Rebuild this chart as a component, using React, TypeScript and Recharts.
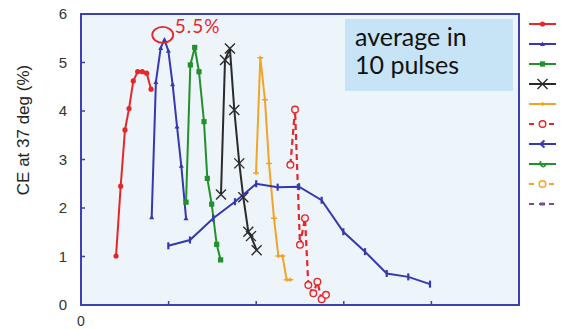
import React from "react"
import {
  LineChart,
  Line,
  XAxis,
  YAxis,
  CartesianGrid,
  ReferenceArea,
  ReferenceDot,
  Legend,
  Label,
} from "recharts"

// values (x in arbitrary units, y = CE %)
const RED_X = [0.4, 0.453, 0.502, 0.548, 0.597, 0.647, 0.7, 0.75, 0.8]
const RED_Y = [1.01, 2.45, 3.61, 4.05, 4.62, 4.81, 4.81, 4.78, 4.45]

const BLUE_X = [0.807, 0.855, 0.91, 0.953, 0.997, 1.046, 1.096, 1.145, 1.199]
const BLUE_Y = [1.81, 4.6, 5.3, 5.47, 5.24, 4.55, 3.68, 2.87, 1.79]

const GREEN_X = [1.199, 1.248, 1.298, 1.347, 1.404, 1.442, 1.492, 1.549, 1.594]
const GREEN_Y = [2.12, 4.95, 5.31, 4.81, 3.78, 2.61, 2.08, 1.25, 0.93]

const BLACK_X = [1.598, 1.644, 1.7, 1.75, 1.807, 1.853, 1.91, 1.94, 2.005]
const BLACK_Y = [2.28, 5.05, 5.29, 4.02, 2.92, 2.22, 1.51, 1.42, 1.13]

const ORANGE_X = [1.998, 2.047, 2.1, 2.146, 2.203, 2.253, 2.3, 2.348, 2.39]
const ORANGE_Y = [2.72, 5.1, 4.23, 2.92, 1.79, 1.01, 1.01, 0.52, 0.52]

const RED_DASH_X = [2.39, 2.443, 2.5, 2.557, 2.595, 2.652, 2.698, 2.747, 2.797]
const RED_DASH_Y = [2.89, 4.03, 1.24, 1.79, 0.41, 0.24, 0.48, 0.12, 0.21]

const BLUE2_X = [0.997, 1.244, 1.51, 1.758, 2.0, 2.245, 2.489, 2.747, 2.995, 3.242, 3.49, 3.736, 3.984]
const BLUE2_Y = [1.22, 1.34, 1.79, 2.13, 2.5, 2.43, 2.44, 2.16, 1.51, 1.1, 0.65, 0.58, 0.43]

const X_TICKS = [0, 1, 2, 3, 4, 5]
const Y_TICKS = [0, 1, 2, 3, 4, 5, 6]
const PEAK = { x: 0.933, y: 5.57, text: "5.5%" }

const pts = (xs: number[], ys: number[]) => xs.map((x, i) => ({ x, y: ys[i] }))

const C = {
  red: "#e5262b",
  blue: "#3538b1",
  green: "#23902e",
  black: "#2a2a2a",
  orange: "#f2a428",
  purple: "#7b4a98",
  frame: "#3c40b0",
  plotBg: "#edf5fa",
}

// ---- markers ----
const Marker = ({ kind, cx, cy, color }: any) => {
  if (cx == null || cy == null) return null
  switch (kind) {
    case "circle":
      return <circle cx={cx} cy={cy} r={2.6} fill={color} />
    case "tri":
      return <path d={`M${cx - 2.5},${cy + 2} L${cx + 2.5},${cy + 2} L${cx},${cy - 2.5} Z`} fill={color} />
    case "square":
      return <rect x={cx - 2.6} y={cy - 2.6} width={5.2} height={5.2} fill={color} />
    case "x":
      return (
        <path
          d={`M${cx - 5},${cy - 5} L${cx + 5},${cy + 5} M${cx - 5},${cy + 5} L${cx + 5},${cy - 5}`}
          stroke={color}
          strokeWidth={1.4}
        />
      )
    case "plus":
      return (
        <path d={`M${cx - 3},${cy} L${cx + 3},${cy} M${cx},${cy - 2} L${cx},${cy + 2}`} stroke={color} strokeWidth={1.5} />
      )
    case "ocircle":
      return <circle cx={cx} cy={cy} r={3.3} fill="#fdf3f3" stroke={color} strokeWidth={1.4} />
    case "bar":
      return <path d={`M${cx},${cy - 3.5} L${cx},${cy + 3.5}`} stroke={color} strokeWidth={2.2} />
    case "lt":
      return <path d={`M${cx + 2},${cy - 3.5} L${cx - 2},${cy} L${cx + 2},${cy + 3.5}`} fill="none" stroke={color} strokeWidth={2} />
    case "hook":
      return <path d={`M${cx - 2},${cy - 3} C${cx - 3},${cy + 4} ${cx + 4},${cy + 4} ${cx + 3},${cy - 1}`} fill="none" stroke={color} strokeWidth={1.8} />
    case "dash":
      return <rect x={cx - 2.5} y={cy - 1.5} width={5} height={3} fill={color} />
    default:
      return null
  }
}

const SERIES = [
  { name: "r1", color: C.red, marker: "circle", dash: undefined },
  { name: "b1", color: C.blue, marker: "tri", dash: undefined },
  { name: "g1", color: C.green, marker: "square", dash: undefined },
  { name: "k1", color: C.black, marker: "x", dash: undefined },
  { name: "o1", color: C.orange, marker: "plus", dash: undefined },
  { name: "r2", color: C.red, marker: "ocircle", dash: "6 4" },
  { name: "b2", color: C.blue, marker: "lt", dash: undefined },
  { name: "g2", color: C.green, marker: "hook", dash: undefined },
  { name: "o2", color: C.orange, marker: "ocircle", dash: "6 4" },
  { name: "p2", color: C.purple, marker: "dash", dash: "6 4" },
]

const LegendBox = () => (
  <div style={{ display: "flex", flexDirection: "column" }}>
    {SERIES.map((s) => (
      <svg key={s.name} width={32} height={20}>
        <line x1={2} y1={10} x2={29} y2={10} stroke={s.color} strokeWidth={2} strokeDasharray={s.dash ? "5 5" : undefined} />
        <Marker kind={s.marker} cx={15.5} cy={10} color={s.color} />
      </svg>
    ))}
  </div>
)

const YTick = ({ x, y, payload }: any) => (
  <g>
    <text x={x} y={y} dy="0.35em" textAnchor="end" fontSize={15} fill="#333" fontFamily="Liberation Sans, Arial, sans-serif">
      {payload.value}
    </text>
    {payload.value > 0 && payload.value < 6 && (
      <line x1={x + 14} y1={y} x2={x + 18} y2={y} stroke={C.frame} strokeWidth={1.5} />
    )}
  </g>
)

const XTick = ({ x, y, payload }: any) => (
  <g>
    {payload.value === 0 && (
      <text x={x} y={y} dy="0.71em" textAnchor="middle" fontSize={14} fill="#333" fontFamily="Liberation Sans, Arial, sans-serif">
        0
      </text>
    )}
    {payload.value > 0 && payload.value < 5 && (
      <line x1={x} y1={y - 11} x2={x} y2={y - 15} stroke={C.frame} strokeWidth={1.5} />
    )}
  </g>
)

const PeakMark = ({ cx, cy }: any) => (
  <g>
    <ellipse cx={cx} cy={cy} rx={10.5} ry={8} fill="none" stroke={C.red} strokeWidth={1.8} />
    <text x={cx + 12} y={cy - 2} fontSize={19} fill={C.red} fontFamily="Lato, sans-serif" letterSpacing={1}>
      {PEAK.text}
    </text>
  </g>
)

const seriesData = [
  pts(RED_X, RED_Y),
  pts(BLUE_X, BLUE_Y),
  pts(GREEN_X, GREEN_Y),
  pts(BLACK_X, BLACK_Y),
  pts(ORANGE_X, ORANGE_Y),
  pts(RED_DASH_X, RED_DASH_Y),
  pts(BLUE2_X, BLUE2_Y),
]

export default function App() {
  return (
    <div style={{ position: "fixed", left: 0, top: 0, width: 565, height: 330, background: "#fff" }}>
      <LineChart width={565} height={330} margin={{ top: 14, right: 46, bottom: 0, left: 41 }}>
        <CartesianGrid horizontal={false} vertical={false} fill={C.plotBg} fillOpacity={1} />
        <XAxis
          type="number"
          dataKey="x"
          domain={[0, 5]}
          ticks={X_TICKS}
          axisLine={false}
          tickLine={false}
          tickSize={6}
          tickMargin={5}
          height={25}
          tick={<XTick />}
          allowDataOverflow
        />
        <YAxis
          type="number"
          dataKey="y"
          domain={[0, 6]}
          ticks={Y_TICKS}
          axisLine={false}
          tickLine={false}
          tickSize={6}
          tickMargin={8}
          width={40}
          tick={<YTick />}
        >
          <Label
            content={() => (
              <text
                x={23}
                y={130}
                transform="rotate(-90, 23, 130)"
                textAnchor="middle"
                dominantBaseline="central"
                fontSize={17}
                fill="#222"
                fontFamily="Liberation Sans, Arial, sans-serif"
              >
                CE at 37 deg (%)
              </text>
            )}
          />
        </YAxis>
        <ReferenceArea x1={0} x2={5} y1={0} y2={6} fill="none" stroke={C.frame} strokeWidth={2} />
        {SERIES.map((s, i) => (
          <Line
            key={s.name}
            name={s.name}
            data={seriesData[i] ?? []}
            dataKey="y"
            type="linear"
            stroke={s.color}
            strokeWidth={s.name === "r2" ? 2.2 : 2}
            strokeDasharray={s.dash}
            dot={(p: any) => <Marker key={`${s.name}-${p.index}`} kind={i === 6 ? "bar" : s.marker} cx={p.cx} cy={p.cy} color={s.color} />}
            activeDot={false}
            isAnimationActive={false}
          />
        ))}
        <ReferenceDot x={PEAK.x} y={PEAK.y} shape={<PeakMark />} />
        <Legend
          layout="vertical"
          align="center"
          verticalAlign="middle"
          wrapperStyle={{ left: 527, top: 14, width: 32 }}
          content={() => <LegendBox />}
        />
      </LineChart>
      <div
        style={{
          position: "absolute",
          left: 345,
          top: 19,
          width: 168,
          height: 72,
          paddingLeft: 10,
          paddingTop: 3,
          boxSizing: "border-box",
          background: "#c6e4f5",
          color: "#111",
          fontFamily: "Lato, sans-serif",
          fontSize: 25,
          lineHeight: "28px",
        }}
      >
        average in
        <br />
        10 pulses
      </div>
    </div>
  )
}
